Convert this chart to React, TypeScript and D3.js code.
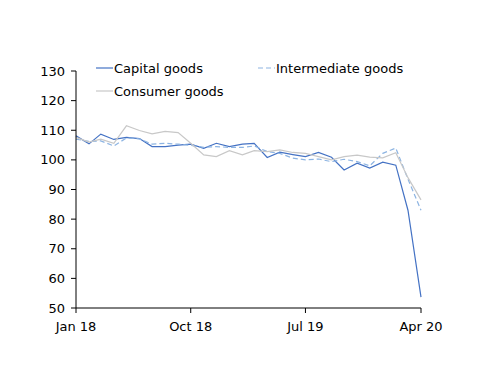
import React from 'react';
import * as d3 from 'd3';

// Monthly index values, Jan 2018 – Apr 2020
const months = d3.timeMonths(new Date(2018, 0, 1), new Date(2020, 4, 1));

const capitalGoods = [
  108.1, 105.4, 108.7, 106.9, 107.6, 107.2, 104.5, 104.5, 105.0, 105.3,
  103.9, 105.6, 104.5, 105.3, 105.6, 100.8, 102.6, 101.8, 101.1, 102.5,
  100.9, 96.6, 98.9, 97.2, 99.2, 98.2, 83.0, 53.7,
];
const intermediateGoods = [
  107.0, 106.2, 106.4, 104.7, 107.4, 107.1, 105.3, 105.6, 105.3, 104.9,
  104.2, 104.5, 104.2, 104.2, 104.7, 102.8, 102.2, 100.6, 100.0, 100.3,
  99.4, 100.2, 99.4, 98.0, 102.2, 104.0, 93.5, 83.0,
];
const consumerGoods = [
  107.6, 106.0, 107.0, 105.6, 111.5, 109.9, 108.8, 109.6, 109.2, 105.6,
  101.7, 101.1, 103.1, 101.7, 103.1, 102.8, 103.4, 102.5, 102.2, 101.1,
  100.0, 101.1, 101.6, 100.9, 100.7, 102.4, 94.0, 86.5,
];

const yTicks = [50, 60, 70, 80, 90, 100, 110, 120, 130];
const xTickDates = [
  new Date(2018, 0, 1),
  new Date(2018, 9, 1),
  new Date(2019, 6, 1),
  new Date(2020, 3, 1),
];

const series = [
  { name: 'Capital goods', values: capitalGoods, color: '#4472C4', dash: '' },
  { name: 'Intermediate goods', values: intermediateGoods, color: '#8DB4E2', dash: '5,3' },
  { name: 'Consumer goods', values: consumerGoods, color: '#C8C8C8', dash: '' },
];

const fmt = d3.timeFormat('%b %y');

const App: React.FC = () => {
  const width = 500;
  const height = 386;
  const margin = { left: 76, right: 79, top: 71, bottom: 78 };

  const x = d3
    .scaleTime()
    .domain([months[0], months[months.length - 1]])
    .range([margin.left, width - margin.right]);
  const y = d3
    .scaleLinear()
    .domain([50, 130])
    .range([height - margin.bottom, margin.top]);

  const line = d3
    .line<number>()
    .x((_, i) => x(months[i]))
    .y((d) => y(d));

  const font = '"DejaVu Sans", sans-serif';
  const y0 = y(50);

  const legend = [
    { s: series[0], lx: 96, ly: 68 },
    { s: series[1], lx: 258, ly: 68 },
    { s: series[2], lx: 96, ly: 91 },
  ];

  return (
    <svg
      width={width}
      height={height}
      style={{ position: 'absolute', left: 0, top: 0 }}
      fontFamily={font}
    >
      <rect width={width} height={height} fill="#fff" />
      {series.map((s) => (
        <path
          key={s.name}
          d={line(s.values) || ''}
          fill="none"
          stroke={s.color}
          strokeWidth={1.2}
          strokeDasharray={s.dash}
        />
      ))}
      {/* y axis */}
      <line x1={margin.left} x2={margin.left} y1={y(130)} y2={y0} stroke="#000" />
      {yTicks.map((t) => (
        <g key={t}>
          <line x1={margin.left - 5} x2={margin.left} y1={y(t)} y2={y(t)} stroke="#000" />
          <text x={margin.left - 11} y={y(t)} dy="0.35em" textAnchor="end" fontSize={13}>
            {t}
          </text>
        </g>
      ))}
      {/* x axis */}
      <line x1={margin.left} x2={x(months[months.length - 1])} y1={y0} y2={y0} stroke="#000" />
      {xTickDates.map((d) => (
        <g key={d.toISOString()}>
          <line x1={x(d)} x2={x(d)} y1={y0} y2={y0 + 5} stroke="#000" />
          <text x={x(d)} y={y0 + 23} textAnchor="middle" fontSize={13}>
            {fmt(d)}
          </text>
        </g>
      ))}
      {/* legend */}
      {legend.map(({ s, lx, ly }) => (
        <g key={s.name}>
          <line
            x1={lx}
            x2={lx + 17}
            y1={ly}
            y2={ly}
            stroke={s.color}
            strokeWidth={1.2}
            strokeDasharray={s.dash}
          />
          <text x={lx + 18} y={ly} dy="0.35em" fontSize={13}>
            {s.name}
          </text>
        </g>
      ))}
    </svg>
  );
};

export default App;
